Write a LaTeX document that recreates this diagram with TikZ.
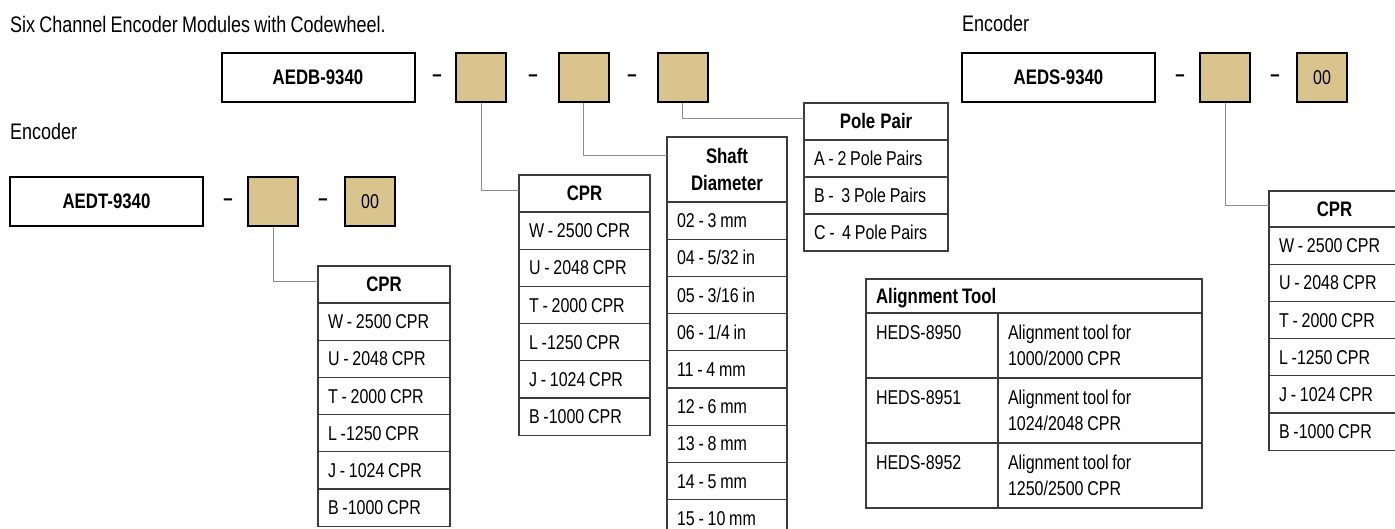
\documentclass[tikz,border=0pt]{standalone}
\usepackage{fontspec}
\setmainfont{Liberation Sans}[FakeStretch=0.8, WordSpace=0.85]
\usepackage{tikz}
\usetikzlibrary{positioning}

\definecolor{codetan}{RGB}{217,196,142}
\definecolor{tablegray}{RGB}{60,60,60}
\definecolor{linkgray}{RGB}{140,140,140}

\newcommand\tabfont{\fontsize{20}{26}\selectfont}
\newcommand\headfont{\fontsize{21}{27}\selectfont\bfseries}
\newcommand\notefont{\fontsize{22.5}{26}\selectfont}
\newcommand\partnofont{\fontsize{21}{25}\selectfont\bfseries}

\tikzset{
  partbox/.style={draw, line width=2pt, fill=white, minimum width=193pt, minimum height=49pt,
    inner sep=0pt, font=\partnofont, text height=15pt, text depth=0pt},
  optbox/.style={partbox, fill=codetan, minimum width=50pt, font=\tabfont, text height=14.2pt},
  dashmark/.style={inner sep=0pt, font=\headfont, anchor=base},
  cellbase/.style={draw=tablegray, line width=1.1pt, outer sep=0pt, inner xsep=10pt, inner ysep=0pt,
    text width=#1, align=left, font=\tabfont,
    execute at begin node={\spaceskip=0pt\relax\xspaceskip=0pt\relax}},
  cell/.style={cellbase=#1, minimum height=37.2pt, text height=14.3pt, text depth=0pt},
  hdr/.style={cell=#1, align=center, font=\headfont, text height=15pt, minimum height=37pt},
  toolcell/.style={cellbase=#1, minimum height=65pt},
  link/.style={draw=linkgray, line width=1pt},
  note/.style={font=\notefont, inner sep=0pt, anchor=base west},
}

\begin{document}
\begin{tikzpicture}[x=1pt, y=-1pt]
  \useasboundingbox (0,0) rectangle (1395,529);
  \clip (0,0) rectangle (1395,529);
  %--- captions
  \node[note] (title) at (10,33) {Six Channel Encoder Modules with Codewheel.};
  \node[note] (encT) at (10,140) {Encoder};
  \node[note] (encS) at (962,32) {Encoder};
  %--- AEDB part number
  \node[partbox] (aedb) at (318,77.5) {AEDB-9340};
  \node[dashmark] (dB1) at (437,81.5) {–};
  \node[optbox] (tanB1) at (481,77.5) {};
  \node[dashmark] (dB2) at (533,81.5) {–};
  \node[optbox] (tanB2) at (583.5,77.5) {};
  \node[dashmark] (dB3) at (632,81.5) {–};
  \node[optbox] (tanB3) at (682.5,77.5) {};
  %--- AEDS part number
  \node[partbox] (aeds) at (1058.5,77.5) {AEDS-9340};
  \node[dashmark] (dS1) at (1180,81.5) {–};
  \node[optbox] (tanS) at (1225,77.5) {};
  \node[dashmark] (dS2) at (1275,81.5) {–};
  \node[optbox] (zeroS) at (1322,77.5) {00};
  %--- AEDT part number
  \node[partbox] (aedt) at (106.5,201.5) {AEDT-9340};
  \node[dashmark] (dT1) at (228,205.5) {–};
  \node[optbox] (tanT) at (273,201.5) {};
  \node[dashmark] (dT2) at (323,205.5) {–};
  \node[optbox] (zeroT) at (370,201.5) {00};

  %--- CPR (AEDT)
  \node[hdr=112pt, anchor=north west] (cprT0) at (318,266) {CPR};
  \foreach \t [count=\i, remember=\i as \j (initially 0)] in
    {W - 2500 CPR, U - 2048 CPR, T - 2000 CPR, L -1250 CPR, J - 1024 CPR, B -1000 CPR}
    \node[cell=112pt, below=0pt of cprT\j] (cprT\i) {\t};
  %--- CPR (AEDB)
  \node[hdr=111pt, anchor=north west] (cprB0) at (519,175) {CPR};
  \foreach \t [count=\i, remember=\i as \j (initially 0)] in
    {W - 2500 CPR, U - 2048 CPR, T - 2000 CPR, L -1250 CPR, J - 1024 CPR, B -1000 CPR}
    \node[cell=111pt, below=0pt of cprB\j] (cprB\i) {\t};
  %--- Shaft diameter
  \node[cellbase=100pt, align=center, font=\headfont, minimum height=65pt, anchor=north west]
    (shaft0) at (667,137) {Shaft\\Diameter};
  \foreach \t [count=\i, remember=\i as \j (initially 0)] in
    {02 - 3 mm, 04 - 5/32 in, 05 - 3/16 in, 06 - 1/4 in, 11 - 4 mm, 12 - 6 mm, 13 - 8 mm, 14 - 5 mm, 15 - 10 mm}
    \node[cell=100pt, below=0pt of shaft\j] (shaft\i) {\t};
  %--- Pole pair
  \node[hdr=124pt, anchor=north west] (pole0) at (804,103) {Pole Pair};
  \foreach \t [count=\i, remember=\i as \j (initially 0)] in
    {A - 2 Pole Pairs, B -\ \ 3 Pole Pairs, C -\ \ 4 Pole Pairs}
    \node[cell=124pt, minimum height=37pt, below=0pt of pole\j] (pole\i) {\t};
  %--- CPR (AEDS)
  \node[hdr=111pt, minimum height=36pt, anchor=north west] (cprS0) at (1269,191) {CPR};
  \foreach \t [count=\i, remember=\i as \j (initially 0)] in
    {W - 2500 CPR, U - 2048 CPR, T - 2000 CPR, L -1250 CPR, J - 1024 CPR, B -1000 CPR}
    \node[cell=111pt, below=0pt of cprS\j] (cprS\i) {\t};

  %--- Alignment tool
  \node[cell=316pt, font=\headfont, text height=15pt, minimum height=34pt, anchor=north west]
    (tool) at (866,279) {Alignment Tool};
  \foreach \n/\lo/\hi [count=\i] in {8950/1000/2000, 8951/1024/2048, 8952/1250/2500}{
    \node[toolcell=112pt, anchor=north west] (heds\i) at (866,{248+65*\i}) {HEDS-\n\\\mbox{}};
    \node[toolcell=184pt, anchor=north west] (use\i) at (heds\i.north east)
      {Alignment tool for\\\lo/\hi{} CPR};
  }

  %--- links
  \draw[link] (tanT.south) |- ([yshift=3pt]cprT0.west);
  \draw[link] (tanB1.south) |- ([yshift=3pt]cprB0.west);
  \draw[link] (tanB2.south) |- ([yshift=14pt]shaft0.west);
  \draw[link] (tanB3.south) |- ([yshift=3pt]pole0.west);
  \draw[link] (tanS.south) |- ([yshift=3pt]cprS0.west);
\end{tikzpicture}
\end{document}
